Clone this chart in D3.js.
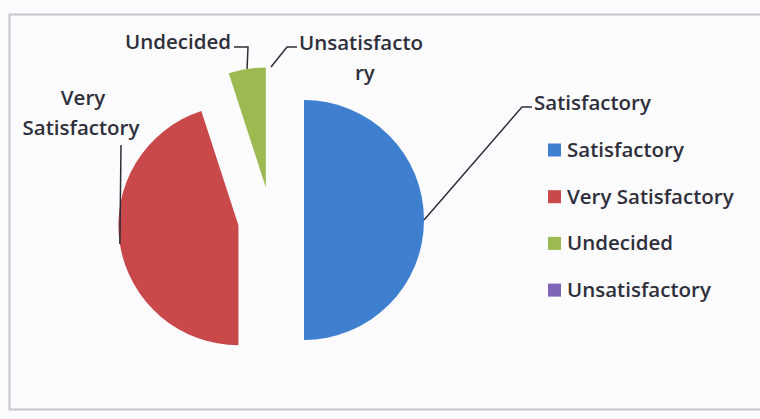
<!DOCTYPE html>
<html>
<head>
<meta charset="utf-8">
<script src="https://cdn.jsdelivr.net/npm/d3@7"></script>
<style>
  body { margin: 0; background: #fbfbfd; }
  text { font-family: "Open Sans", sans-serif; fill: #2f2f3b; font-weight: 600; }
</style>
</head>
<body>
<div id="chart"></div>
<script>
// data
var categories = ["Satisfactory", "Very Satisfactory", "Undecided", "Unsatisfactory"];
var shares = [50, 45, 5, 0];
var colors = ["#3f7fd0", "#c9484a", "#9bbb52", "#8064b8"];

var svgWidth = 760;
var svgHeight = 419;

var svg = d3.select("#chart")
  .append("svg")
  .attr("width", svgWidth)
  .attr("height", svgHeight);

// chart border (runs off the right edge like the scan)
svg.append("rect")
  .attr("x", 9.5)
  .attr("y", 14.5)
  .attr("width", 780)
  .attr("height", 395)
  .attr("fill", "#fcfcfe")
  .attr("stroke", "#c4c4cc")
  .attr("stroke-width", 2);

var cx = 271, cy = 220;
var radius = 120;
var explode = 33;

var pie = d3.pie().sort(null).value(function(d) { return d; });
var arc = d3.arc().innerRadius(0).outerRadius(radius);
var arcs = pie(shares);

// offset of each slice along its bisector
function offset(d) {
  var a = (d.startAngle + d.endAngle) / 2;
  return [explode * Math.sin(a), -explode * Math.cos(a)];
}
// point on the outer edge of the slice, at its bisector
function anchor(d) {
  var a = (d.startAngle + d.endAngle) / 2;
  var o = offset(d);
  return [cx + o[0] + radius * Math.sin(a), cy + o[1] - radius * Math.cos(a)];
}

var chart = svg.append("g");

chart.selectAll("path.slice")
  .data(arcs)
  .enter()
  .append("path")
  .attr("class", "slice")
  .attr("transform", function(d) {
    var o = offset(d);
    return "translate(" + (cx + o[0]) + "," + (cy + o[1]) + ")";
  })
  .attr("d", arc)
  .attr("fill", function(d, i) { return colors[i]; });

// data label layout: leader bend points and text lines
var labelLayout = [
  { path: [[522, 107], [532, 107]], anchor: "start",
    lines: [{ s: "Satisfactory", x: 534, y: 110 }] },
  { path: [[121, 145]], anchor: "middle",
    lines: [{ s: "Very", x: 83, y: 105 }, { s: "Satisfactory", x: 81, y: 135 }] },
  { path: [[248, 47], [234, 47]], anchor: "end",
    lines: [{ s: "Undecided", x: 231, y: 49 }] },
  { path: [[287, 47], [297, 47]], anchor: "start",
    lines: [{ s: "Unsatisfacto", x: 299, y: 50 }, { s: "ry", x: 355, y: 80 }] }
];

var line = d3.line();
arcs.forEach(function(d, i) {
  var lay = labelLayout[i];
  chart.append("path")
    .attr("d", line([anchor(d)].concat(lay.path)))
    .attr("fill", "none")
    .attr("stroke", "#2e2e36")
    .attr("stroke-width", 1.5);

  var t = chart.append("text")
    .attr("text-anchor", lay.anchor)
    .attr("font-size", 20.5);
  lay.lines.forEach(function(l) {
    t.append("tspan")
      .attr("x", l.x)
      .attr("y", l.y)
      .text(l.s);
  });
});

// legend
var legend = svg.append("g").attr("transform", "translate(548,150)");
var row = legend.selectAll("g")
  .data(categories)
  .enter()
  .append("g")
  .attr("transform", function(d, i) { return "translate(0," + (i * 46.7) + ")"; });

row.append("rect")
  .attr("x", 0)
  .attr("y", -6.5)
  .attr("width", 13)
  .attr("height", 13)
  .attr("fill", function(d, i) { return colors[i]; });

row.append("text")
  .attr("x", 19)
  .attr("y", 7)
  .attr("font-size", 20.5)
  .text(function(d) { return d; });
</script>
</body>
</html>
